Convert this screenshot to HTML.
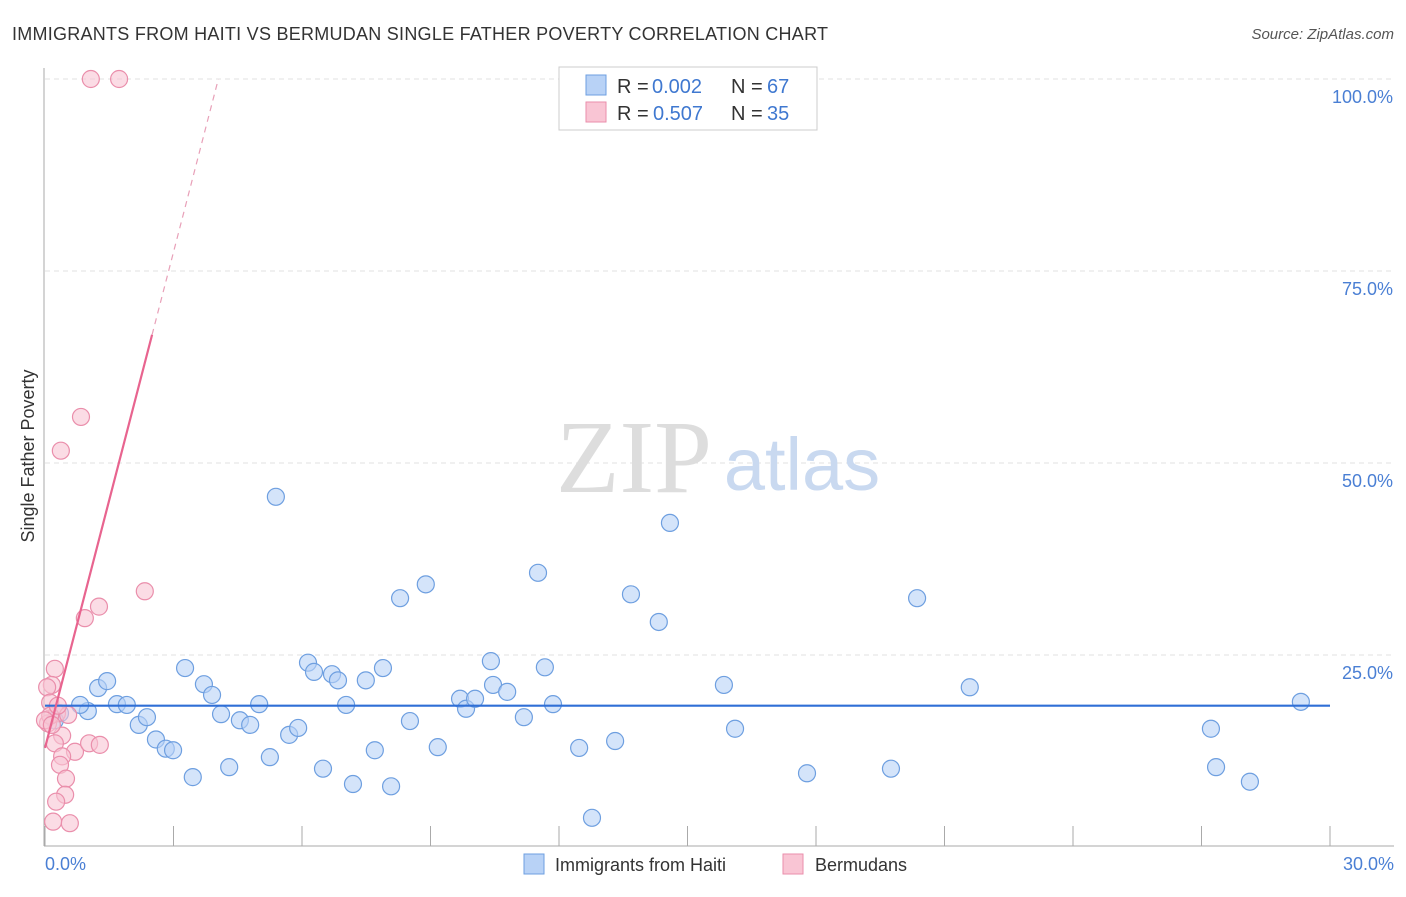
<!DOCTYPE html>
<html><head><meta charset="utf-8"><style>
body{margin:0;background:#fff;font-family:"Liberation Sans",sans-serif}
</style></head><body>
<svg width="1406" height="892" xmlns="http://www.w3.org/2000/svg" font-family="Liberation Sans, sans-serif">
<text x="12" y="40" font-size="18" fill="#333" textLength="816">IMMIGRANTS FROM HAITI VS BERMUDAN SINGLE FATHER POVERTY CORRELATION CHART</text>
<text x="1394" y="39" font-size="15" fill="#555" font-style="italic" text-anchor="end">Source: ZipAtlas.com</text>
<g id="grid"></g>
<text x="634" y="492" font-size="104" fill="#ddd" font-family="Liberation Serif, serif" text-anchor="middle">ZIP</text>
<text x="802" y="490" font-size="74" fill="#c9d9f0" text-anchor="middle">atlas</text>
<line x1="44" y1="68" x2="44" y2="846" stroke="#aaa"/>
<line x1="44" y1="846" x2="1394" y2="846" stroke="#aaa"/>
<text x="34" y="456" font-size="18" fill="#333" transform="rotate(-90 34 456)" text-anchor="middle">Single Father Poverty</text>
<text x="45" y="870" font-size="18" fill="#4a7fd4">0.0%</text>
<text x="1394" y="870" font-size="18" fill="#4a7fd4" text-anchor="end">30.0%</text>
<g id="marks"></g>
<g>
<rect x="559" y="67" width="258" height="63" fill="#fff" stroke="#ccc"/>
<rect x="586" y="75" width="20" height="20" fill="#b8d2f6" stroke="#6e9fe0"/>
<rect x="586" y="102" width="20" height="20" fill="#f9c5d4" stroke="#ea8eab"/>
<text x="617" y="93" font-size="20" fill="#333">R =</text>
<text x="652" y="93" font-size="20" fill="#3f78d0">0.002</text>
<text x="731" y="93" font-size="20" fill="#333">N =</text>
<text x="767" y="93" font-size="20" fill="#3f78d0">67</text>
<text x="617" y="120" font-size="20" fill="#333">R =</text>
<text x="653" y="120" font-size="20" fill="#3f78d0">0.507</text>
<text x="731" y="120" font-size="20" fill="#333">N =</text>
<text x="767" y="120" font-size="20" fill="#3f78d0">35</text>
</g>
<g>
<rect x="524" y="854" width="20" height="20" fill="#b8d2f6" stroke="#6e9fe0"/>
<text x="555" y="871" font-size="18" fill="#333">Immigrants from Haiti</text>
<rect x="783" y="854" width="20" height="20" fill="#f9c5d4" stroke="#ea8eab"/>
<text x="815" y="871" font-size="18" fill="#333">Bermudans</text>
</g>
</svg>
<script>
const yTicks=[25,50,75,100];
const xTicks=[0,3,6,9,12,15,18,21,24,27,30];
const haitiX=[1.24,1.45,1.00,0.82,1.68,1.91,2.19,2.38,2.59,2.82,2.99,3.27,3.45,3.71,3.90,4.11,4.30,4.55,4.79,5.00,5.25,5.39,5.70,5.91,6.14,6.28,6.49,6.70,7.03,7.19,6.84,7.49,7.70,7.89,8.08,8.29,8.52,8.89,9.17,9.69,9.83,10.04,10.41,10.46,10.79,11.18,11.51,11.67,11.86,12.47,12.77,13.31,13.68,14.33,14.59,15.85,16.11,17.79,19.75,20.36,21.59,27.22,27.34,28.13,29.32,0.35,0.23];
const haitiY=[20.7,21.6,17.7,18.5,18.6,18.5,15.9,16.9,14.0,12.8,12.6,23.3,9.1,21.2,19.8,17.3,10.4,16.5,15.9,18.6,11.7,45.6,14.6,15.5,24.0,22.8,10.2,22.5,18.5,8.2,21.7,21.7,12.6,23.3,7.9,32.4,16.4,34.2,13.0,19.3,18.0,19.3,24.2,21.1,20.2,16.9,35.7,23.4,18.6,12.9,3.8,13.8,32.9,29.3,42.2,21.1,15.4,9.6,10.2,32.4,20.8,15.4,10.4,8.5,18.9,17.4,16.5];
const bermX=[1.07,1.73,0.84,0.37,2.33,1.26,0.93,0.23,0.16,0.05,0.12,0.28,0.54,0.07,0.4,0.23,0.7,1.03,1.28,0.4,0.35,0.49,0.47,0.26,0.19,0.58,0.12,0.0,0.16,0.3];
const bermY=[100,100,56.0,51.6,33.3,31.3,29.8,23.2,21.1,20.8,18.8,17.4,17.2,16.1,14.5,13.5,12.4,13.5,13.3,11.8,10.7,8.9,6.8,5.9,3.3,3.1,17.1,16.5,15.9,18.4];
const blueTrend=[18.4,18.4], pinkTrend=[12.9,66.7];
const X0=45,X1=1330,YB=847,YT=79;
const sx=v=>X0+(v/30)*(X1-X0), sy=v=>YB-(v/100)*(YB-YT);
const NS='http://www.w3.org/2000/svg';
const grid=document.getElementById('grid'), marks=document.getElementById('marks');
function mk(t,a,p){const e=document.createElementNS(NS,t);for(const k in a)e.setAttribute(k,a[k]);p.appendChild(e);return e;}
yTicks.forEach(v=>{
 const l=mk('line',{x1:45,x2:1394,y1:sy(v),y2:sy(v),stroke:'#e2e2e2','stroke-dasharray':'5,4'},grid);
 
 
 const t=mk('text',{x:1393,y:sy(v)+24,'font-size':18,fill:'#4a7fd4','text-anchor':'end'},grid);
 t.textContent=v.toFixed(1)+'%';
 
 
});
xTicks.forEach(v=>{
 const l=mk('line',{x1:sx(v),x2:sx(v),y1:826,y2:846,stroke:'#aaa'},grid);
 
 
});
haitiX.forEach((x,i)=>{
 const c=mk('circle',{cx:sx(x),cy:sy(haitiY[i]),r:8.5,fill:'#b8d2f6','fill-opacity':0.6,stroke:'#6e9fe0','stroke-width':1.2},marks);
 
 
});
bermX.forEach((x,i)=>{
 const c=mk('circle',{cx:sx(x),cy:sy(bermY[i]),r:8.5,fill:'#f9c5d4','fill-opacity':0.6,stroke:'#ea8eab','stroke-width':1.2},marks);
 
 
});
const bl=mk('line',{x1:sx(0),x2:sx(30),y1:sy(blueTrend[0]),y2:sy(blueTrend[1]),stroke:'#2f6fd6','stroke-width':2.2},marks);


const slope=(pinkTrend[1]-pinkTrend[0])/2.5;
const pl=mk('line',{x1:sx(0),x2:sx(2.5),y1:sy(pinkTrend[0]),y2:sy(pinkTrend[1]),stroke:'#e8648f','stroke-width':2.2},marks);


const xe=(100-pinkTrend[0])/slope;
const pd=mk('line',{x1:sx(2.5),x2:sx(xe),y1:sy(pinkTrend[1]),y2:sy(100),stroke:'#e8a0b8','stroke-width':1.2,'stroke-dasharray':'6,5'},marks);


</script>
</body></html>
